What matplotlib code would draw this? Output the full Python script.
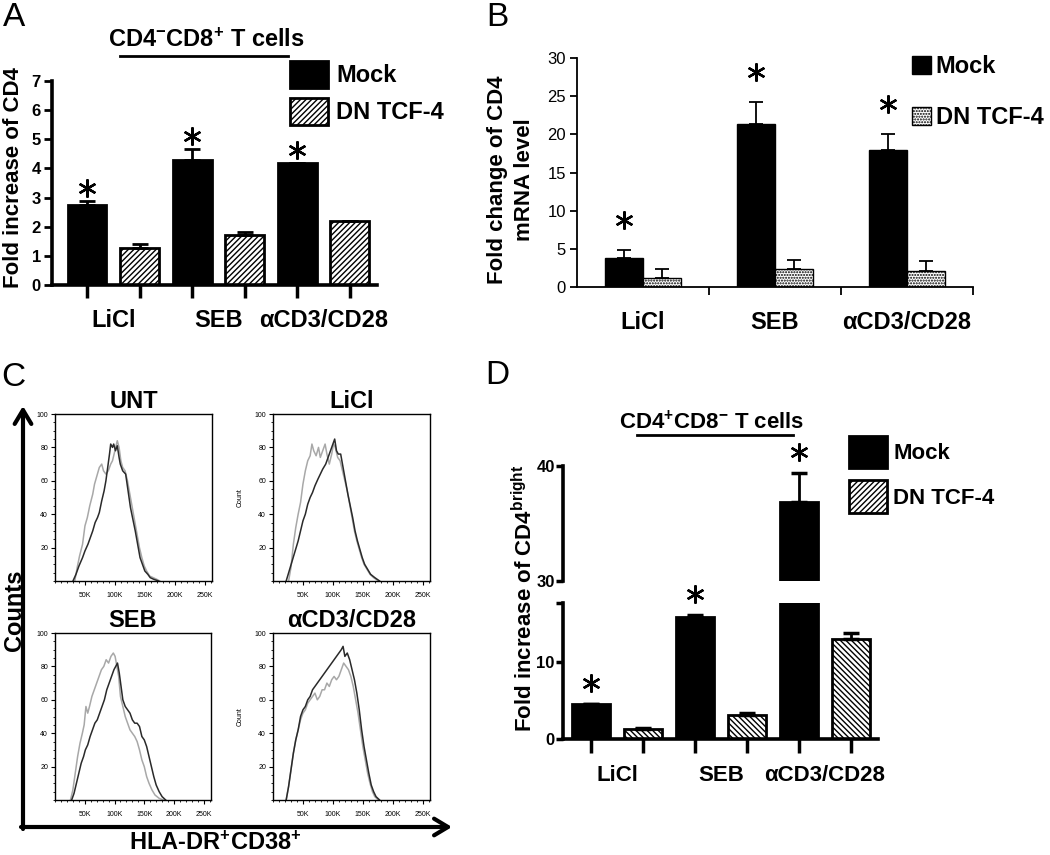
import numpy as np
import matplotlib
matplotlib.use('Agg')
import matplotlib.pyplot as plt
from matplotlib.patches import Patch
from matplotlib.ticker import MultipleLocator
from matplotlib.transforms import offset_copy

plt.rcParams['font.family'] = ['Liberation Sans', 'DejaVu Sans']
plt.rcParams['mathtext.fontset'] = 'custom'
plt.rcParams['mathtext.rm'] = 'Liberation Sans:bold'
plt.rcParams['mathtext.bf'] = 'Liberation Sans:bold'
plt.rcParams['mathtext.it'] = 'Liberation Sans:bold'
plt.rcParams['hatch.linewidth'] = 1.0

# ---- data ----
cats = ['LiCl', 'SEB', 'αCD3/CD28']
series = ['Mock', 'DN TCF-4']

# A: CD4-CD8+ T cells, fold increase of CD4
a_mock = [2.75, 4.30, 4.18]
a_mock_err = [0.12, 0.38, 0.0]
a_dn = [1.28, 1.72, 2.18]
a_dn_err = [0.14, 0.11, 0.0]

# B: fold change of CD4 mRNA
b_mock = [3.8, 21.3, 18.0]
b_mock_err = [1.0, 2.9, 2.0]
b_dn = [1.2, 2.3, 2.1]
b_dn_err = [1.1, 1.3, 1.3]

# D: CD4+CD8- T cells, fold increase of CD4 bright
d_mock = [4.6, 15.9, 36.9]
d_mock_err = [0.0, 0.3, 2.5]
d_dn = [1.3, 3.1, 13.0]
d_dn_err = [0.15, 0.3, 0.8]

# C: histograms (x in thousands, counts)
unt_dark_x = [30, 35, 40, 46, 50, 55, 60, 63, 67, 71, 74, 78, 82, 85, 88, 91, 93, 96, 98, 101, 104, 107, 109, 113, 118, 122, 126, 130, 134, 138, 142, 146, 150, 155, 159, 165, 173]
unt_dark_y = [0, 4, 9, 14, 18, 22, 27, 30, 35, 38, 41, 48, 54, 60, 68, 76, 82, 80, 82, 78, 81, 74, 70, 66, 64, 54, 44, 37, 30, 22, 14, 10, 6, 4, 2, 1, 0]
unt_gray_x = [33, 37, 41, 46, 50, 54, 58, 63, 66, 70, 74, 78, 81, 85, 89, 93, 96, 100, 104, 107, 110, 113, 117, 121, 125, 129, 133, 137, 141, 145, 149, 153, 158, 164, 170, 175]
unt_gray_y = [0, 8, 15, 22, 33, 38, 45, 52, 58, 63, 68, 70, 66, 64, 66, 70, 72, 78, 84, 80, 72, 68, 66, 60, 52, 44, 36, 28, 20, 14, 9, 6, 3, 2, 1, 0]

licl_dark_x = [22, 27, 32, 37, 42, 46, 50, 54, 58, 62, 66, 70, 75, 79, 83, 88, 92, 96, 100, 103, 106, 109, 113, 117, 121, 125, 129, 133, 137, 141, 145, 149, 153, 158, 163, 170, 178]
licl_dark_y = [0, 6, 12, 18, 24, 30, 36, 40, 46, 50, 53, 57, 61, 64, 67, 70, 74, 78, 82, 85, 78, 76, 76, 68, 60, 52, 45, 38, 30, 24, 19, 14, 10, 7, 4, 2, 0]
licl_gray_x = [26, 30, 34, 38, 42, 46, 50, 54, 58, 62, 65, 68, 72, 76, 79, 83, 87, 90, 94, 98, 101, 104, 108, 112, 116, 120, 124, 128, 132, 136, 140, 144, 148, 152, 157, 162, 168, 176]
licl_gray_y = [0, 8, 22, 32, 40, 47, 58, 66, 72, 75, 82, 78, 75, 80, 74, 78, 82, 76, 70, 76, 82, 80, 74, 72, 66, 60, 54, 46, 38, 30, 24, 19, 14, 10, 7, 4, 2, 0]

seb_dark_x = [28, 32, 36, 40, 44, 48, 51, 55, 59, 63, 67, 71, 75, 79, 83, 87, 91, 95, 99, 102, 105, 108, 111, 114, 118, 122, 126, 130, 134, 138, 142, 146, 150, 154, 158, 162, 166, 170, 175, 180, 186]
seb_dark_y = [0, 4, 10, 16, 22, 26, 30, 33, 38, 42, 46, 48, 52, 56, 60, 66, 70, 74, 78, 80, 82, 76, 68, 60, 56, 54, 52, 48, 46, 46, 44, 38, 36, 32, 26, 20, 14, 9, 5, 2, 0]
seb_gray_x = [26, 30, 34, 38, 42, 46, 49, 52, 55, 58, 62, 66, 70, 74, 78, 82, 86, 90, 94, 98, 101, 104, 107, 110, 114, 118, 122, 126, 130, 134, 138, 142, 146, 150, 154, 158, 163, 168, 175, 182]
seb_gray_y = [0, 6, 16, 26, 34, 40, 45, 56, 52, 56, 62, 66, 70, 74, 78, 80, 84, 82, 86, 88, 86, 80, 74, 62, 56, 50, 46, 42, 40, 38, 35, 30, 24, 20, 14, 10, 6, 3, 1, 0]

cd3_dark_x = [22, 26, 30, 34, 38, 42, 46, 50, 54, 58, 62, 66, 70, 74, 78, 82, 86, 90, 94, 98, 102, 106, 110, 114, 117, 120, 124, 128, 132, 136, 140, 144, 148, 152, 156, 160, 164, 168, 172, 178]
cd3_dark_y = [0, 8, 18, 28, 36, 42, 50, 54, 56, 60, 62, 66, 68, 70, 72, 74, 76, 78, 80, 82, 84, 86, 88, 90, 92, 86, 88, 84, 78, 72, 64, 54, 42, 32, 24, 16, 9, 5, 2, 0]
cd3_gray_x = [22, 26, 30, 34, 38, 42, 46, 50, 54, 58, 62, 66, 70, 74, 78, 82, 86, 90, 94, 98, 102, 106, 110, 114, 118, 122, 126, 130, 134, 138, 142, 146, 150, 154, 158, 162, 166, 170, 176]
cd3_gray_y = [0, 8, 18, 28, 36, 42, 48, 52, 54, 58, 60, 62, 64, 60, 62, 66, 66, 70, 68, 72, 74, 72, 74, 78, 82, 80, 78, 74, 68, 60, 52, 42, 32, 24, 16, 10, 5, 2, 0]

hist_titles = ['UNT', 'LiCl', 'SEB', 'αCD3/CD28']

W, H = 1050, 855
fig = plt.figure(figsize=(W / 100, H / 100), dpi=100)


def add_ax(l, t, r, b):
    return fig.add_axes([l / W, 1 - b / H, (r - l) / W, (b - t) / H])


def fpos(x, y):
    return (x / W, 1 - y / H)


def star_marks(ax, xs, tops, dy):
    tr = offset_copy(ax.transData, fig=fig, x=0, y=dy, units='dots')
    ax.plot(xs, tops, ls='none', marker=(6, 2, 0), ms=13, mew=1.7,
            color='k', transform=tr, clip_on=False)


# ---------------- Panel A ----------------
axA = add_ax(52, 81, 377, 285)
pm = np.arange(3) * 2
pd_ = pm + 1
axA.bar(pm, a_mock, width=0.74, color='k', edgecolor='k', lw=2)
axA.bar(pd_, a_dn, width=0.74, color='white', edgecolor='k', hatch='//////', lw=2)
axA.errorbar(pm, a_mock, yerr=[np.zeros(3), a_mock_err], fmt='none', ecolor='k',
             elinewidth=2, capsize=6, capthick=2)
axA.errorbar(pd_, a_dn, yerr=[np.zeros(3), a_dn_err], fmt='none', ecolor='k',
             elinewidth=2, capsize=6, capthick=2)
star_marks(axA, pm, np.add(a_mock, a_mock_err), 13)
axA.set_xlim(-0.667, 5.52)
axA.set_ylim(0, 7)
for s in ['top', 'right']:
    axA.spines[s].set_visible(False)
for s in ['left', 'bottom']:
    axA.spines[s].set_linewidth(2.6)
axA.set_yticks(range(8))
axA.tick_params(axis='y', length=6, width=2, labelsize=12, pad=2)
for lab in axA.get_yticklabels():
    lab.set_fontweight('bold')
axA.set_xticks(np.arange(6), [''] * 6)
axA.tick_params(axis='x', which='major', length=9, width=2.5)
axA.set_xticks(pm + 0.5, cats, minor=True)
axA.tick_params(axis='x', which='minor', length=0, pad=17, labelsize=17)
for lab in axA.get_xticklabels(minor=True):
    lab.set_fontweight('bold')

legA = fig.legend([Patch(facecolor='k', edgecolor='k', lw=2),
                   Patch(facecolor='white', edgecolor='k', hatch='//////', lw=2)],
                  series, loc='upper left', bbox_to_anchor=fpos(290, 61),
                  frameon=False, prop={'weight': 'bold', 'size': 17},
                  handlelength=1.6, handleheight=1.35, handletextpad=0.35,
                  labelspacing=0.45, borderpad=0, borderaxespad=0)

# ---------------- Panel B ----------------
axB = add_ax(577, 58, 973, 287)
xc = np.arange(3)
axB.bar(xc - 0.145, b_mock, width=0.29, color='k', edgecolor='k', lw=1)
axB.bar(xc + 0.145, b_dn, width=0.29, color='white', edgecolor='k', hatch='......', lw=1)
axB.errorbar(xc - 0.145, b_mock, yerr=[np.zeros(3), b_mock_err], fmt='none',
             ecolor='k', elinewidth=1.3, capsize=5, capthick=1.3)
axB.errorbar(xc + 0.145, b_dn, yerr=[np.zeros(3), b_dn_err], fmt='none',
             ecolor='k', elinewidth=1.3, capsize=5, capthick=1.3)
star_marks(axB, xc - 0.145, np.add(b_mock, b_mock_err), 30)
axB.set_xlim(-0.5, 2.5)
axB.set_ylim(0, 30)
for s in ['top', 'right']:
    axB.spines[s].set_visible(False)
for s in ['left', 'bottom']:
    axB.spines[s].set_linewidth(1.3)
axB.set_yticks(range(0, 31, 5))
axB.tick_params(axis='y', length=5, width=1.3, labelsize=12, pad=3)
axB.set_xticks(xc, cats)
axB.tick_params(axis='x', which='major', length=0, pad=17, labelsize=17)
for lab in axB.get_xticklabels():
    lab.set_fontweight('bold')
axB.set_xticks(xc + 0.5, minor=True)
axB.tick_params(axis='x', which='minor', length=6, width=1.3)

legB = fig.legend([Patch(facecolor='k', edgecolor='k', lw=1),
                   Patch(facecolor='white', edgecolor='k', hatch='......', lw=1)],
                  series, loc='upper left', bbox_to_anchor=fpos(912, 55),
                  frameon=False, prop={'weight': 'bold', 'size': 17},
                  handlelength=0.8, handleheight=0.8, handletextpad=0.2,
                  labelspacing=1.2, borderpad=0, borderaxespad=0)

# ---------------- Panel C ----------------
hist_boxes = [(55, 414, 212, 581), (273, 414, 430, 581),
              (55, 633, 211, 800), (273, 633, 430, 800)]
hist_data = [(unt_dark_x, unt_dark_y, unt_gray_x, unt_gray_y),
             (licl_dark_x, licl_dark_y, licl_gray_x, licl_gray_y),
             (seb_dark_x, seb_dark_y, seb_gray_x, seb_gray_y),
             (cd3_dark_x, cd3_dark_y, cd3_gray_x, cd3_gray_y)]
for i, (box, (dx, dy, gx, gy), title) in enumerate(zip(hist_boxes, hist_data, hist_titles)):
    ax = add_ax(*box)
    ax.plot(np.array(gx) * 1000, gy, color='#a8a8a8', lw=1.1)
    ax.plot(np.array(dx) * 1000, dy, color='#2a2a2a', lw=1.1)
    ax.set_xlim(0, 262144)
    ax.set_ylim(0, 100)
    for s in ax.spines.values():
        s.set_linewidth(1.0)
    ax.set_xticks([50000, 100000, 150000, 200000, 250000],
                  ['50K', '100K', '150K', '200K', '250K'])
    ax.set_yticks([20, 40, 60, 80, 100])
    ax.xaxis.set_minor_locator(MultipleLocator(10000))
    ax.yaxis.set_minor_locator(MultipleLocator(5))
    ax.tick_params(which='major', length=3, width=0.8, labelsize=5, pad=2)
    ax.tick_params(which='minor', length=1.5, width=0.6)
    ax.tick_params(axis='x', pad=5)
    if i % 2 == 1:
        ax.set_ylabel('Count', fontsize=5, labelpad=8)
    ax.set_title(title, fontsize=17, fontweight='bold', pad=4)

# ---------------- Panel D ----------------
axD_hi = add_ax(563, 466, 878, 581)
axD_lo = add_ax(563, 603, 878, 739)
for ax in (axD_lo, axD_hi):
    ax.bar(pm, d_mock, width=0.72, color='k', edgecolor='k', lw=2)
    ax.bar(pd_, d_dn, width=0.72, color='white', edgecolor='k', hatch='\\\\\\\\\\\\', lw=2)
    ax.errorbar(pm, d_mock, yerr=[np.zeros(3), d_mock_err], fmt='none', ecolor='k',
                elinewidth=2, capsize=6, capthick=2.5)
    ax.errorbar(pd_, d_dn, yerr=[np.zeros(3), d_dn_err], fmt='none', ecolor='k',
                elinewidth=2, capsize=6, capthick=2.5)
    ax.set_xlim(-0.54, 5.52)
    for s in ['top', 'right']:
        ax.spines[s].set_visible(False)
    ax.spines['left'].set_linewidth(2.6)
    ax.tick_params(axis='y', length=5, width=2.5, labelsize=12, pad=1)
axD_lo.set_ylim(0, 17.7)
axD_hi.set_ylim(30, 40)
axD_hi.spines['bottom'].set_visible(False)
axD_hi.set_xticks([])
axD_hi.set_yticks([30, 40])
axD_lo.set_yticks([0, 10, 17.7], ['0', '10', ''])
axD_lo.spines['bottom'].set_linewidth(2.6)
for ax in (axD_lo, axD_hi):
    for lab in ax.get_yticklabels():
        lab.set_fontweight('bold')
axD_lo.set_xticks(np.arange(6), [''] * 6)
axD_lo.tick_params(axis='x', which='major', length=10, width=2.5)
axD_lo.set_xticks(pm + 0.5, cats, minor=True)
axD_lo.tick_params(axis='x', which='minor', length=0, pad=19, labelsize=16)
for lab in axD_lo.get_xticklabels(minor=True):
    lab.set_fontweight('bold')
d_tops = np.add(d_mock, d_mock_err)
lo_sel = d_tops <= 17.7
star_marks(axD_lo, pm[lo_sel], d_tops[lo_sel], 21)
star_marks(axD_hi, pm[~lo_sel], d_tops[~lo_sel], 21)

legD = fig.legend([Patch(facecolor='k', edgecolor='k', lw=2),
                   Patch(facecolor='white', edgecolor='k', hatch='//////', lw=2)],
                  series, loc='upper left', bbox_to_anchor=fpos(849, 436),
                  frameon=False, prop={'weight': 'bold', 'size': 16},
                  handlelength=1.7, handleheight=1.85, handletextpad=0.3,
                  labelspacing=0.55, borderpad=0, borderaxespad=0)

# ---------------- overlay: letters, titles, arrows ----------------
ov = fig.add_axes([0, 0, 1, 1])
ov.set_xlim(0, W)
ov.set_ylim(H, 0)
ov.axis('off')

for letter, (x, y) in zip('ABCD', [(14, 17), (497, 17), (13, 377), (497, 375)]):
    ov.text(x, y, letter, fontsize=24, ha='center', va='center')

ov.text(14, 178, 'Fold increase of CD4', rotation=90, fontsize=16,
        fontweight='bold', ha='center', va='center')
ov.text(206, 40, r'CD4$^{-}$CD8$^{+}$ T cells', fontsize=17, fontweight='bold',
        ha='center', va='center')
ov.plot([120, 288], [56, 56], color='k', lw=2)

# two-line y label for B, one text per line
ov.text(498, 180, 'Fold change of CD4', rotation=90, fontsize=16,
        fontweight='bold', ha='center', va='center')
ov.text(525, 180, 'mRNA level', rotation=90, fontsize=16,
        fontweight='bold', ha='center', va='center')

ov.text(525, 598, r'Fold increase of CD4$^{\mathrm{bright}}$', rotation=90,
        fontsize=16, fontweight='bold', ha='center', va='center')
ov.text(712, 422, r'CD4$^{+}$CD8$^{-}$ T cells', fontsize=16, fontweight='bold',
        ha='center', va='center')
ov.plot([637, 793], [435, 435], color='k', lw=2)

arrow_kw = dict(arrowstyle='->,head_length=1.0,head_width=0.6', lw=3,
                color='k', shrinkA=0, shrinkB=0)
ov.annotate('', xy=(23, 406), xytext=(23, 829), arrowprops=arrow_kw)
ov.annotate('', xy=(452, 827), xytext=(21, 827), arrowprops=arrow_kw)
ov.text(15, 610, 'Counts', rotation=90, fontsize=17, fontweight='bold',
        ha='center', va='center')
ov.text(215, 843, r'HLA-DR$^{+}$CD38$^{+}$', fontsize=17, fontweight='bold',
        ha='center', va='center')

fig.savefig('out.png', dpi=100)
